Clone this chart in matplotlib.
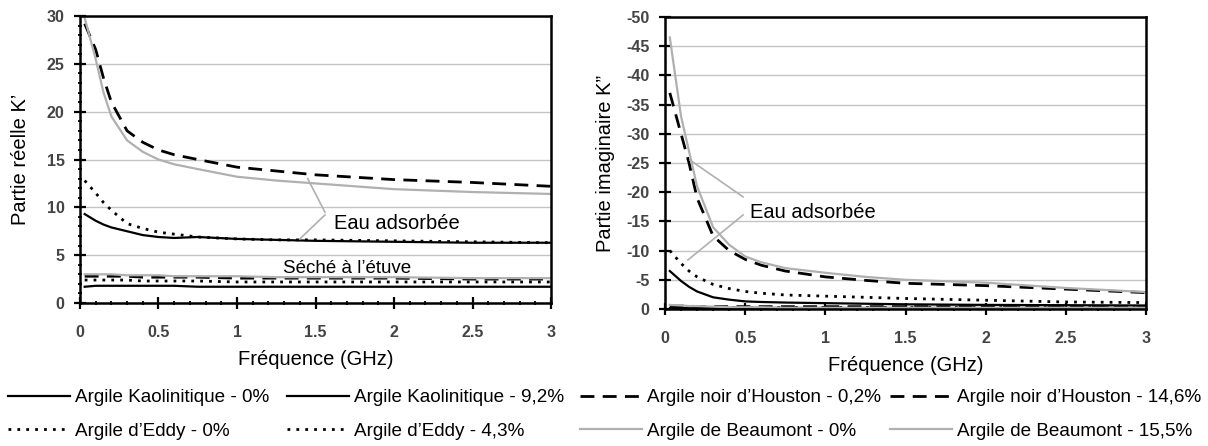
import matplotlib
matplotlib.use("Agg")
import matplotlib.pyplot as plt
from matplotlib.ticker import MultipleLocator, FormatStrFormatter

plt.rcParams["font.family"] = ["Liberation Sans", "DejaVu Sans"]
plt.rcParams["axes.unicode_minus"] = False

# frequency grid (GHz) used for reading the curves
freq = [0.03, 0.1, 0.15, 0.2, 0.3, 0.4, 0.5, 0.6, 0.75, 1.0, 1.25, 1.5, 2.0, 2.5, 3.0]

# real part K'
real_kao_0 = [1.7, 1.8, 1.8, 1.8, 1.8, 1.8, 1.8, 1.8, 1.7, 1.7, 1.7, 1.7, 1.7, 1.7, 1.7]
real_kao_92 = [9.3, 8.6, 8.2, 7.9, 7.5, 7.1, 6.9, 6.8, 6.9, 6.7, 6.6, 6.5, 6.4, 6.3, 6.3]
real_hou_02 = [2.8, 2.8, 2.8, 2.8, 2.8, 2.7, 2.7, 2.7, 2.7, 2.6, 2.6, 2.6, 2.6, 2.5, 2.5]
real_hou_146 = [29.2, 26.5, 23.5, 21.0, 18.0, 16.8, 16.0, 15.5, 15.0, 14.2, 13.8, 13.4, 12.9, 12.6, 12.2]
real_eddy_0 = [2.4, 2.4, 2.4, 2.4, 2.4, 2.3, 2.3, 2.3, 2.3, 2.2, 2.2, 2.2, 2.2, 2.2, 2.2]
real_eddy_43 = [12.8, 11.5, 10.5, 9.7, 8.3, 7.8, 7.4, 7.2, 6.9, 6.7, 6.6, 6.6, 6.5, 6.4, 6.3]
real_beau_0 = [3.0, 3.0, 3.0, 3.0, 2.9, 2.9, 2.9, 2.8, 2.8, 2.8, 2.7, 2.7, 2.7, 2.6, 2.6]
real_beau_155 = [29.8, 25.5, 22.0, 19.5, 17.0, 15.8, 15.0, 14.5, 14.0, 13.2, 12.8, 12.5, 11.9, 11.6, 11.4]

# imaginary part K''
imag_kao_0 = [-0.2, -0.2, -0.2, -0.2, -0.2, -0.2, -0.2, -0.2, -0.2, -0.2, -0.2, -0.2, -0.2, -0.2, -0.2]
imag_kao_92 = [-6.5, -4.8, -3.8, -3.0, -2.0, -1.6, -1.3, -1.2, -1.1, -1.0, -0.9, -0.8, -0.7, -0.65, -0.6]
imag_hou_02 = [-0.5, -0.5, -0.5, -0.4, -0.4, -0.4, -0.4, -0.4, -0.4, -0.4, -0.4, -0.4, -0.4, -0.4, -0.4]
imag_hou_146 = [-37.0, -30.0, -25.0, -19.0, -12.5, -10.0, -8.5, -7.5, -6.5, -5.5, -4.9, -4.4, -4.0, -3.4, -2.8]
imag_eddy_0 = [-0.3, -0.3, -0.3, -0.3, -0.3, -0.3, -0.3, -0.3, -0.3, -0.3, -0.3, -0.3, -0.3, -0.3, -0.3]
imag_eddy_43 = [-10.0, -7.8, -6.5, -5.5, -4.2, -3.5, -3.0, -2.7, -2.4, -2.2, -2.0, -1.8, -1.5, -1.2, -1.1]
imag_beau_0 = [-0.7, -0.6, -0.5, -0.5, -0.4, -0.3, -0.3, -0.3, -0.2, -0.2, -0.2, -0.2, -0.2, -0.2, -0.2]
imag_beau_155 = [-46.5, -33.0, -27.0, -21.0, -14.0, -11.0, -9.0, -8.0, -7.0, -6.2, -5.5, -5.0, -4.5, -3.6, -2.9]

labels = [
    "Argile Kaolinitique - 0%", "Argile Kaolinitique - 9,2%",
    "Argile noir d\u2019Houston - 0,2%", "Argile noir d\u2019Houston - 14,6%",
    "Argile d\u2019Eddy - 0%", "Argile d\u2019Eddy - 4,3%",
    "Argile de Beaumont - 0%", "Argile de Beaumont - 15,5%",
]

GRAY = "#b0b0b0"
styles = [
    dict(color="black", lw=1.6, ls="-"),
    dict(color="black", lw=1.6, ls="-"),
    dict(color="black", lw=2.0, ls=(0, (5, 3))),
    dict(color="black", lw=2.0, ls=(0, (5, 3))),
    dict(color="black", lw=2.0, ls=(0, (1, 2.2))),
    dict(color="black", lw=2.0, ls=(0, (1, 2.2))),
    dict(color=GRAY, lw=1.6, ls="-"),
    dict(color=GRAY, lw=1.6, ls="-"),
]

real_series = [real_kao_0, real_kao_92, real_hou_02, real_hou_146,
               real_eddy_0, real_eddy_43, real_beau_0, real_beau_155]
imag_series = [imag_kao_0, imag_kao_92, imag_hou_02, imag_hou_146,
               imag_eddy_0, imag_eddy_43, imag_beau_0, imag_beau_155]

fig = plt.figure(figsize=(12.08, 4.46), dpi=100)
ax1 = fig.add_axes([0.0662, 0.3206, 0.390, 0.6435])
ax2 = fig.add_axes([0.5505, 0.3072, 0.3982, 0.6547])


def style_axes(ax, yminor):
    ax.set_xlim(0, 3)
    ax.xaxis.set_major_locator(MultipleLocator(0.5))
    ax.xaxis.set_minor_locator(MultipleLocator(0.1))
    ax.xaxis.set_major_formatter(FormatStrFormatter("%g"))
    ax.yaxis.set_major_locator(MultipleLocator(5))
    ax.yaxis.set_major_formatter(FormatStrFormatter("%g"))
    if yminor:
        ax.yaxis.set_minor_locator(MultipleLocator(1))
    ax.grid(axis="y", color="#c4c4c4", lw=1.0)
    ax.set_axisbelow(True)
    for s in ax.spines.values():
        s.set_linewidth(1.8)
        s.set_color("black")
    ax.tick_params(which="major", direction="inout", length=8, width=1.6,
                   labelsize=11.5, labelcolor="#444444", pad=7)
    ax.tick_params(axis="x", which="major", pad=12)
    ax.tick_params(which="minor", direction="inout", length=3, width=1.3)
    ax.tick_params(top=False, right=False, which="both")
    for lab in ax.get_xticklabels() + ax.get_yticklabels():
        lab.set_fontweight("bold")
    ax.set_xlabel("Fréquence (GHz)", fontsize=14.5, labelpad=7)


lines = []
for ys, st in zip(real_series, styles):
    ax1.plot(freq, ys, **st)
for ys, st, lab in zip(imag_series, styles, labels):
    ln, = ax2.plot(freq, ys, label=lab, **st)
    lines.append(ln)

ax1.set_ylim(0, 30)
style_axes(ax1, True)
ax1.set_ylabel("Partie réelle K\u2019", fontsize=14.5, labelpad=12)
ax2.set_ylim(0, -50)
style_axes(ax2, False)
ax2.set_ylabel("Partie imaginaire K\u201d", fontsize=14.5, labelpad=8)

# annotations on the real part
ax1.plot([1.56, 1.45], [9.5, 13.0], color=GRAY, lw=1.2)
ax1.plot([1.56, 1.40], [9.2, 6.7], color=GRAY, lw=1.2)
ax1.text(1.62, 8.3, "Eau adsorbée", fontsize=14.5, va="center", ha="left")
ax1.text(1.29, 3.6, "Séché à l\u2019étuve", fontsize=13.5, va="center", ha="left")

# annotations on the imaginary part
ax2.plot([0.487, 0.156], [-19.2, -25.5], color=GRAY, lw=1.2)
ax2.plot([0.487, 0.143], [-16.1, -8.4], color=GRAY, lw=1.2)
ax2.text(0.53, -16.6, "Eau adsorbée", fontsize=14.5, va="center", ha="left")

# legend: four columns of two rows
col_x = [8, 287, 580, 890]
cols = [(0, 4), (1, 5), (2, 6), (3, 7)]
for x, (a, b) in zip(col_x, cols):
    fig.legend([lines[a], lines[b]], [labels[a], labels[b]],
               loc="upper left", bbox_to_anchor=(x / 1208, 1 - 389 / 446),
               frameon=False, fontsize=13.6, handlelength=3.3,
               handletextpad=0.25, labelspacing=0.85, borderpad=0,
               borderaxespad=0)

fig.savefig("out.png", dpi=100)
